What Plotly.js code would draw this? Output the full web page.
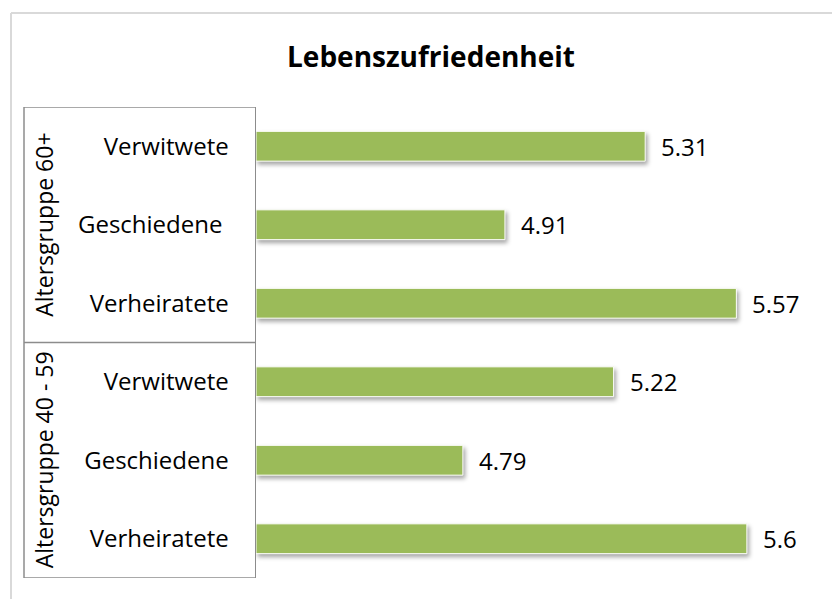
<!DOCTYPE html>
<html>
<head>
<meta charset="utf-8">
<script src="https://cdn.plot.ly/plotly-3.0.1.min.js"></script>
<style>
html,body{margin:0;padding:0;background:#fff;}
#chart{width:832px;height:599px;}
#chart .bars path{filter:drop-shadow(2px 3px 2px rgba(0,0,0,0.35));}
</style>
</head>
<body>
<div id="chart"></div>
<script>
// Data (top to bottom)
const groups = ["Altersgruppe 60+", "Altersgruppe 40 - 59"];
const statusLabels = ["Verwitwete", "Geschiedene ", "Verheiratete", "Verwitwete", "Geschiedene", "Verheiratete"];
const groupOfRow = [0, 0, 0, 1, 1, 1];
const values = [5.31, 4.91, 5.57, 5.22, 4.79, 5.6];
const xMin = 4.2, xMax = 5.8;

const idx = statusLabels.map((_, i) => i);
const FONT = '"Open Sans", sans-serif';

const W = 832, H = 599;
const mL = 256, mR = 15, mT = 107, mB = 21;
const plotW = W - mL - mR;
const plotH = H - mT - mB;
const boxLeftPaper = (24 - mL) / plotW;
const labelPaper = (44 - mL) / plotW;

const trace = {
  type: 'bar',
  orientation: 'h',
  x: values.map(v => v - xMin),
  base: xMin,
  y: idx,
  width: 0.38,
  marker: {color: '#9BBB59', line: {color: '#ffffff', width: 1}},
  hoverinfo: 'skip'
};

const annotations = values.map((v, i) => ({
  x: v, y: i, xref: 'x', yref: 'y',
  text: String(v), showarrow: false,
  xanchor: 'left', xshift: 14,
  font: {family: FONT, size: 24, color: '#000'}
}));

// group labels
groups.forEach((g, gi) => {
  const rows = idx.filter(i => groupOfRow[i] === gi);
  const mid = (rows[0] + rows[rows.length - 1]) / 2;
  annotations.push({
    x: labelPaper, xref: 'paper', y: mid, yref: 'y',
    text: g, showarrow: false, textangle: -90,
    xanchor: 'center', yanchor: 'middle',
    font: {family: FONT, size: 23, color: '#000'}
  });
});

const lineStyle = {color: '#8c8c8c', width: 1.5};
const shapes = [];
const boundaries = [-0.5];
groups.forEach((g, gi) => {
  const rows = idx.filter(i => groupOfRow[i] === gi);
  boundaries.push(rows[rows.length - 1] + 0.5);
});
boundaries.forEach(b => shapes.push({
  type: 'line', xref: 'paper', yref: 'y', x0: boxLeftPaper, x1: 0, y0: b, y1: b, line: lineStyle
}));
shapes.push({type: 'line', xref: 'paper', yref: 'y', x0: boxLeftPaper, x1: boxLeftPaper,
  y0: boundaries[0], y1: boundaries[boundaries.length - 1], line: lineStyle});
// outer chart border (left and top)
const bx = (11 - mL) / plotW, by = (H - mB - 13) / plotH;
shapes.push({type: 'line', xref: 'paper', yref: 'paper', x0: bx, x1: bx, y0: by, y1: -0.1,
  line: {color: '#d9d9d9', width: 2}});
shapes.push({type: 'line', xref: 'paper', yref: 'paper', x0: bx, x1: 1.1, y0: by, y1: by,
  line: {color: '#d9d9d9', width: 2}});

const layout = {
  width: W, height: H,
  margin: {l: mL, r: mR, t: mT, b: mB, pad: 0},
  paper_bgcolor: '#fff', plot_bgcolor: '#fff',
  showlegend: false,
  title: {
    text: '<b>Lebenszufriedenheit</b>',
    font: {family: FONT, size: 28, color: '#000'},
    x: 431 / W, xref: 'container', xanchor: 'center',
    y: 1 - 57 / H, yref: 'container', yanchor: 'middle'
  },
  xaxis: {range: [xMin, xMax], visible: false, fixedrange: true},
  yaxis: {
    range: [5.5, -0.5],
    tickmode: 'array', tickvals: idx, ticktext: statusLabels,
    showline: true, linecolor: '#8c8c8c', linewidth: 1.5,
    showgrid: false, zeroline: false, ticks: '',
    ticklabelstandoff: 21,
    tickfont: {family: FONT, size: 24, color: '#000'},
    fixedrange: true
  },
  annotations: annotations,
  shapes: shapes
};

Plotly.newPlot('chart', [trace], layout, {displayModeBar: false, staticPlot: true});
</script>
</body>
</html>
